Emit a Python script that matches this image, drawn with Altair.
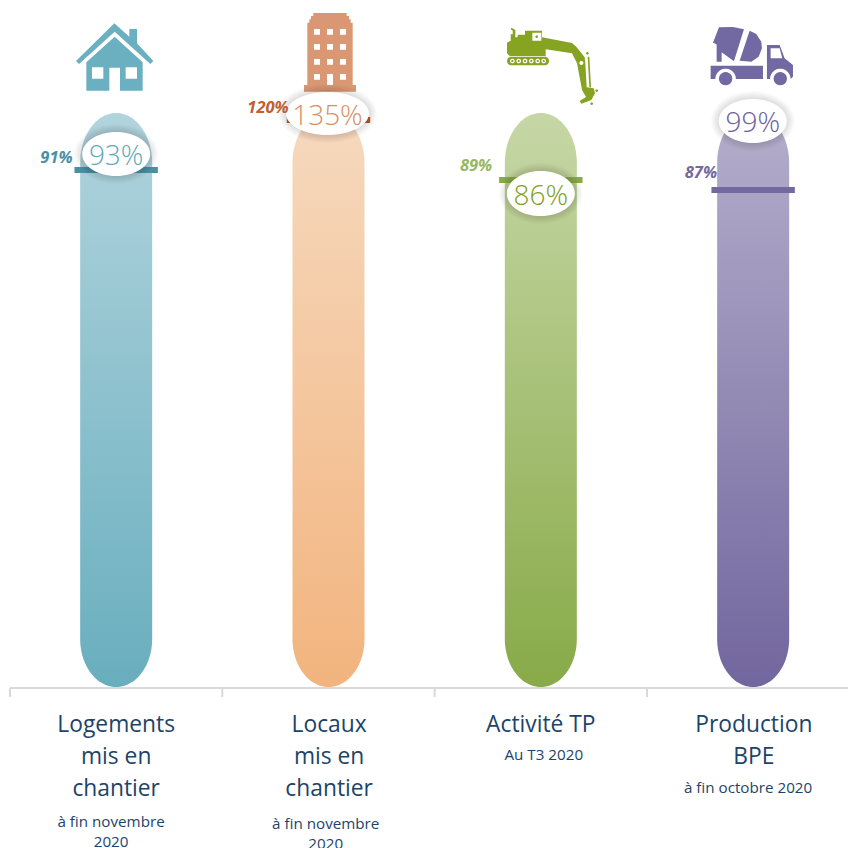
import numpy as np
import pandas as pd
import altair as alt

# ---- values ----
bar_x = [0.5, 1.5, 2.5, 3.5]
bar_top = [575, 575, 575, 575]
value_labels = ["93%", "135%", "86%", "99%"]
value_x = [0.5, 1.495, 2.5, 3.498]
value_h = [534, 574.5, 494.5, 567]
target_labels = ["91%", "120%", "89%", "87%"]
target_h = [518, 568, 508, 498]
target_label_x = [0.219, 1.215, 2.195, 3.254]
target_label_h = [531, 581, 523, 516]
axis_ticks = [0, 1, 2, 3]
titles = [
    ["Logements", "mis en", "chantier"],
    ["Locaux", "mis en", "chantier"],
    ["Activité TP"],
    ["Production", "BPE"],
]
title_x = [0.5, 1.503, 2.5, 3.503]
title_h = [
    [-36, -68, -100],
    [-36, -68, -100],
    [-36],
    [-36, -68],
]
subs = [
    ["à fin novembre", "2020"],
    ["à fin novembre", "2020"],
    ["Au T3 2020"],
    ["à fin octobre 2020"],
]
sub_x = [0.476, 1.487, 2.514, 3.476]
sub_h = [
    [-134, -154],
    [-136, -156],
    [-67],
    [-100],
]

# ---- styles ----
GRAD_TOP = ["#b1d4dd", "#f6d9be", "#c6d7a6", "#b4aecb"]
GRAD_BOT = ["#69aebe", "#f2b47e", "#88aa48", "#72669e"]
TARGET_COL = ["#4a90a4", "#bb5a28", "#88aa48", "#7368a0"]
TARGET_TXT = ["#4a90a4", "#c0602f", "#97b763", "#7368a0"]
MAIN_COL = ["#5fa9ba", "#d98f63", "#7f9e20", "#6a6099"]
ICON_COL = ["#6bb0c0", "#d99873", "#86a322", "#7268a2"]
NAVY = "#1d4468"
FONT = "Open Sans"
ELL_W = [68, 83, 68, 68]
ELL_H = [44, 43, 45, 44]

STEP = 212.33
xs = alt.Scale(domain=[0, 838 / STEP], nice=False, zero=False)
ys = alt.Scale(domain=[-160, 680], nice=False, zero=False)


def area2(p):
    p = np.asarray(p, float)
    return 0.5 * np.sum(p[:, 0] * np.roll(p[:, 1], -1) - np.roll(p[:, 0], -1) * p[:, 1])


def circle(cx, cy, r, n=24):
    t = np.linspace(0, 2 * np.pi, n, endpoint=False)
    return [(cx + r * np.cos(a), cy + r * np.sin(a)) for a in t]


def arc(cx, cy, r, a0, a1, n=14):
    t = np.radians(np.linspace(a0, a1, n))
    return [(cx + r * np.cos(a), cy + r * np.sin(a)) for a in t]


def icon_path(outer, holes, ox, oy):
    parts = []
    for group, sign in ((outer, 1), (holes, -1)):
        for poly in group:
            pts = list(poly)
            if np.sign(area2(pts)) != sign:
                pts = pts[::-1]
            d = " L ".join(f"{(x - ox) / 3:.2f} {(y - oy) / 3:.2f}" for x, y in pts)
            parts.append(f"M {d} Z")
    return " ".join(parts)


def rect(x0, y0, x1, y1):
    return [(x0, y0), (x1, y0), (x1, y1), (x0, y1)]


# --- house ---
house = icon_path(
    [
        [(343, 70), (388, 110), (388, 87), (411, 87), (411, 130), (460, 183), (451, 192), (344, 95), (237, 192), (228, 183)],
        [(344, 110), (428, 187), (428, 272), (360, 272), (360, 203), (328, 203), (328, 272), (259, 272), (259, 187)],
    ],
    [rect(276, 202, 310, 236), rect(377, 202, 411, 236)],
    348.5, 174,
)

# --- building ---
windows = []
for wy0 in (87, 132, 177, 222):
    for wx0 in (942, 981, 1020):
        if wy0 == 222 and wx0 == 981:
            windows.append(rect(981, 222, 999, 255))
        else:
            windows.append(rect(wx0, wy0, wx0 + 18, wy0 + 17))
building = icon_path(
    [[(940, 39), (1040, 39), (1040, 48), (1047, 48), (1047, 58), (1052, 58), (1052, 68), (1058, 68), (1058, 255),
      (1068, 255), (1068, 275), (912, 275), (912, 255), (922, 255), (922, 68), (928, 68), (928, 58), (933, 58),
      (933, 48), (940, 48)]],
    windows,
    985.5, 174,
)

# --- excavator ---
exc_outer = [
    [(237, 160), (237, 128), (248, 122), (248, 103), (254, 103), (254, 92), (248, 88), (250, 83), (262, 90),
     (262, 112), (268, 112), (270, 104), (291, 104), (291, 92), (342, 92), (342, 112), (432, 129), (446, 142),
     (470, 172), (472, 192), (476, 262), (497, 265), (501, 280), (490, 300), (460, 311), (455, 303), (474, 291),
     (462, 270), (447, 190), (432, 160), (353, 148), (353, 168), (245, 168)],
    [(479, 170), (484, 170), (489, 262), (484, 262)],
    circle(478, 160, 4), circle(506, 272, 4), circle(491, 311, 4),
    [*arc(250, 183, 13, 90, 270), *arc(350, 183, 13, -90, 90)],
    circle(326, 110, 4),
]
exc_holes = [rect(313, 98, 340, 122), circle(460, 189, 6)]
for tx in (253, 272, 291, 310, 329, 347):
    exc_holes.append(circle(tx, 183, 7))
    exc_outer.append(circle(tx, 183, 3.2))
excavator = icon_path(exc_outer, exc_holes, 338.4, 174)

# --- mixer truck ---
truck = icon_path(
    [
        [(855, 128), (873, 82), (915, 81), (948, 88), (918, 184), (881, 157), (881, 185), (866, 185), (866, 133)],
        [(965, 92), (985, 102), (1000, 125), (1002, 145), (992, 170), (970, 185), (935, 182)],
        [(848, 197), (1005, 197), (1005, 237), (924, 237), *arc(893, 237, 31, 0, -180), (862, 237), (848, 237)],
        [(1017, 237), (1017, 135), (1055, 135), (1070, 175), (1095, 195), (1095, 230), (1088, 237),
         *arc(1057, 237, 31, 0, -180)],
        circle(893, 236, 20), circle(1057, 236, 20),
    ],
    [[(1028, 145), (1055, 145), (1063, 175), (1028, 175)]],
    975.6, 174,
)
ICONS = [house, building, excavator, truck]


def ellipse(w, h):
    a, b = w / 2, h / 2
    return f"M {-a} 0 A {a} {b} 0 1 1 {a} 0 A {a} {b} 0 1 1 {-a} 0 Z"


def capsule(cx, top, half=36 / STEP, cap_top=50, cap_bot=48, bottom=1):
    t = np.linspace(0, np.pi / 2, 30)
    h_top = top - cap_top + cap_top * np.sin(t)
    w_top = half * np.cos(t)
    h_bot = bottom + cap_bot - cap_bot * np.sin(t)
    w_bot = half * np.cos(t)
    h = np.concatenate([h_bot[::-1], h_top])
    w = np.concatenate([w_bot[::-1], w_top])
    return pd.DataFrame({"h": h, "x0": cx - w, "x1": cx + w})


X = lambda f: alt.X(f"{f}:Q", scale=xs, axis=None)
Y = lambda f: alt.Y(f"{f}:Q", scale=ys, axis=None)

layers = []

# baseline and ticks
AX_COL = "#d9d9d9"
layers.append(
    alt.Chart(pd.DataFrame({"x0": [0.0], "x1": [838 / STEP], "h": [0.0]}))
    .mark_rule(strokeWidth=2, color=AX_COL)
    .encode(x=X("x0"), x2=alt.X2("x1"), y=Y("h"))
)
layers.append(
    alt.Chart(pd.DataFrame({"x": axis_ticks, "h0": [0.0] * 4, "h1": [-9.0] * 4}))
    .mark_rule(strokeWidth=2, color=AX_COL)
    .encode(x=X("x"), y=Y("h0"), y2=alt.Y2("h1"))
)

for i in range(4):
    grad = alt.LinearGradient(
        gradient="linear", x1=0, x2=0, y1=0, y2=1,
        stops=[alt.GradientStop(color=GRAD_TOP[i], offset=0), alt.GradientStop(color=GRAD_BOT[i], offset=1)],
    )
    layers.append(
        alt.Chart(capsule(bar_x[i], bar_top[i]))
        .mark_area(orient="horizontal", color=grad, interpolate="linear")
        .encode(x=X("x0"), x2=alt.X2("x1"), y=alt.Y("h:Q", scale=ys, axis=None))
    )
    # target marker
    layers.append(
        alt.Chart(pd.DataFrame({"x0": [bar_x[i] - 41.7 / STEP], "x1": [bar_x[i] + 41.7 / STEP], "h": [target_h[i]]}))
        .mark_rule(strokeWidth=6, color=TARGET_COL[i])
        .encode(x=X("x0"), x2=alt.X2("x1"), y=Y("h"))
    )

for i in range(4):
    one = pd.DataFrame({"x": [bar_x[i]], "h": [630.0]})
    layers.append(
        alt.Chart(one)
        .mark_point(shape=ICONS[i], size=4, filled=True, opacity=1, fill=ICON_COL[i], strokeWidth=0)
        .encode(x=X("x"), y=Y("h"))
    )

for i in range(4):
    pos = pd.DataFrame({"x": [value_x[i]], "h": [value_h[i]], "t": [value_labels[i]]})
    for r in (8, 7, 6, 5, 4, 3, 2, 1):
        layers.append(
            alt.Chart(pos)
            .mark_point(shape=ellipse(ELL_W[i] + 2 * r, ELL_H[i] + 2 * r), size=4, filled=True,
                        opacity=0.017, fill="#000000", strokeWidth=0)
            .encode(x=X("x"), y=Y("h"))
        )
    layers.append(
        alt.Chart(pos)
        .mark_point(shape=ellipse(ELL_W[i], ELL_H[i]), size=4, filled=True, opacity=1, fill="#ffffff", strokeWidth=0)
        .encode(x=X("x"), y=Y("h"))
    )
    layers.append(
        alt.Chart(pos)
        .mark_text(font=FONT, fontSize=28, fontWeight=300, color=MAIN_COL[i], align="center", baseline="middle", dy=3)
        .encode(x=X("x"), y=Y("h"), text="t:N")
    )
    lab = pd.DataFrame({"x": [target_label_x[i]], "h": [target_label_h[i]], "t": [target_labels[i]]})
    layers.append(
        alt.Chart(lab)
        .mark_text(font=FONT, fontSize=16.5, fontWeight=700, fontStyle="italic", color=TARGET_TXT[i],
                   align="center", baseline="middle", dy=1)
        .encode(x=X("x"), y=Y("h"), text="t:N")
    )

title_rows = pd.DataFrame(
    [{"x": title_x[i], "h": h, "t": t} for i in range(4) for t, h in zip(titles[i], title_h[i])]
)
sub_rows = pd.DataFrame(
    [{"x": sub_x[i], "h": h, "t": t} for i in range(4) for t, h in zip(subs[i], sub_h[i])]
)
layers.append(
    alt.Chart(title_rows)
    .mark_text(font=FONT, fontSize=22.8, color=NAVY, align="center", baseline="middle", dy=1)
    .encode(x=X("x"), y=Y("h"), text="t:N")
)
layers.append(
    alt.Chart(sub_rows)
    .mark_text(font=FONT, fontSize=15.2, color=NAVY, align="center", baseline="middle")
    .encode(x=X("x"), y=Y("h"), text="t:N")
)

chart = (
    alt.layer(*layers)
    .properties(
        width=838, height=840,
        padding={"left": 2, "top": 0, "right": 0, "bottom": 0},
        autosize=alt.AutoSizeParams(type="none"),
        background="#ffffff",
    )
    .configure_view(stroke=None)
)
chart.save("out.html", embed_options={"renderer": "svg", "actions": False})
